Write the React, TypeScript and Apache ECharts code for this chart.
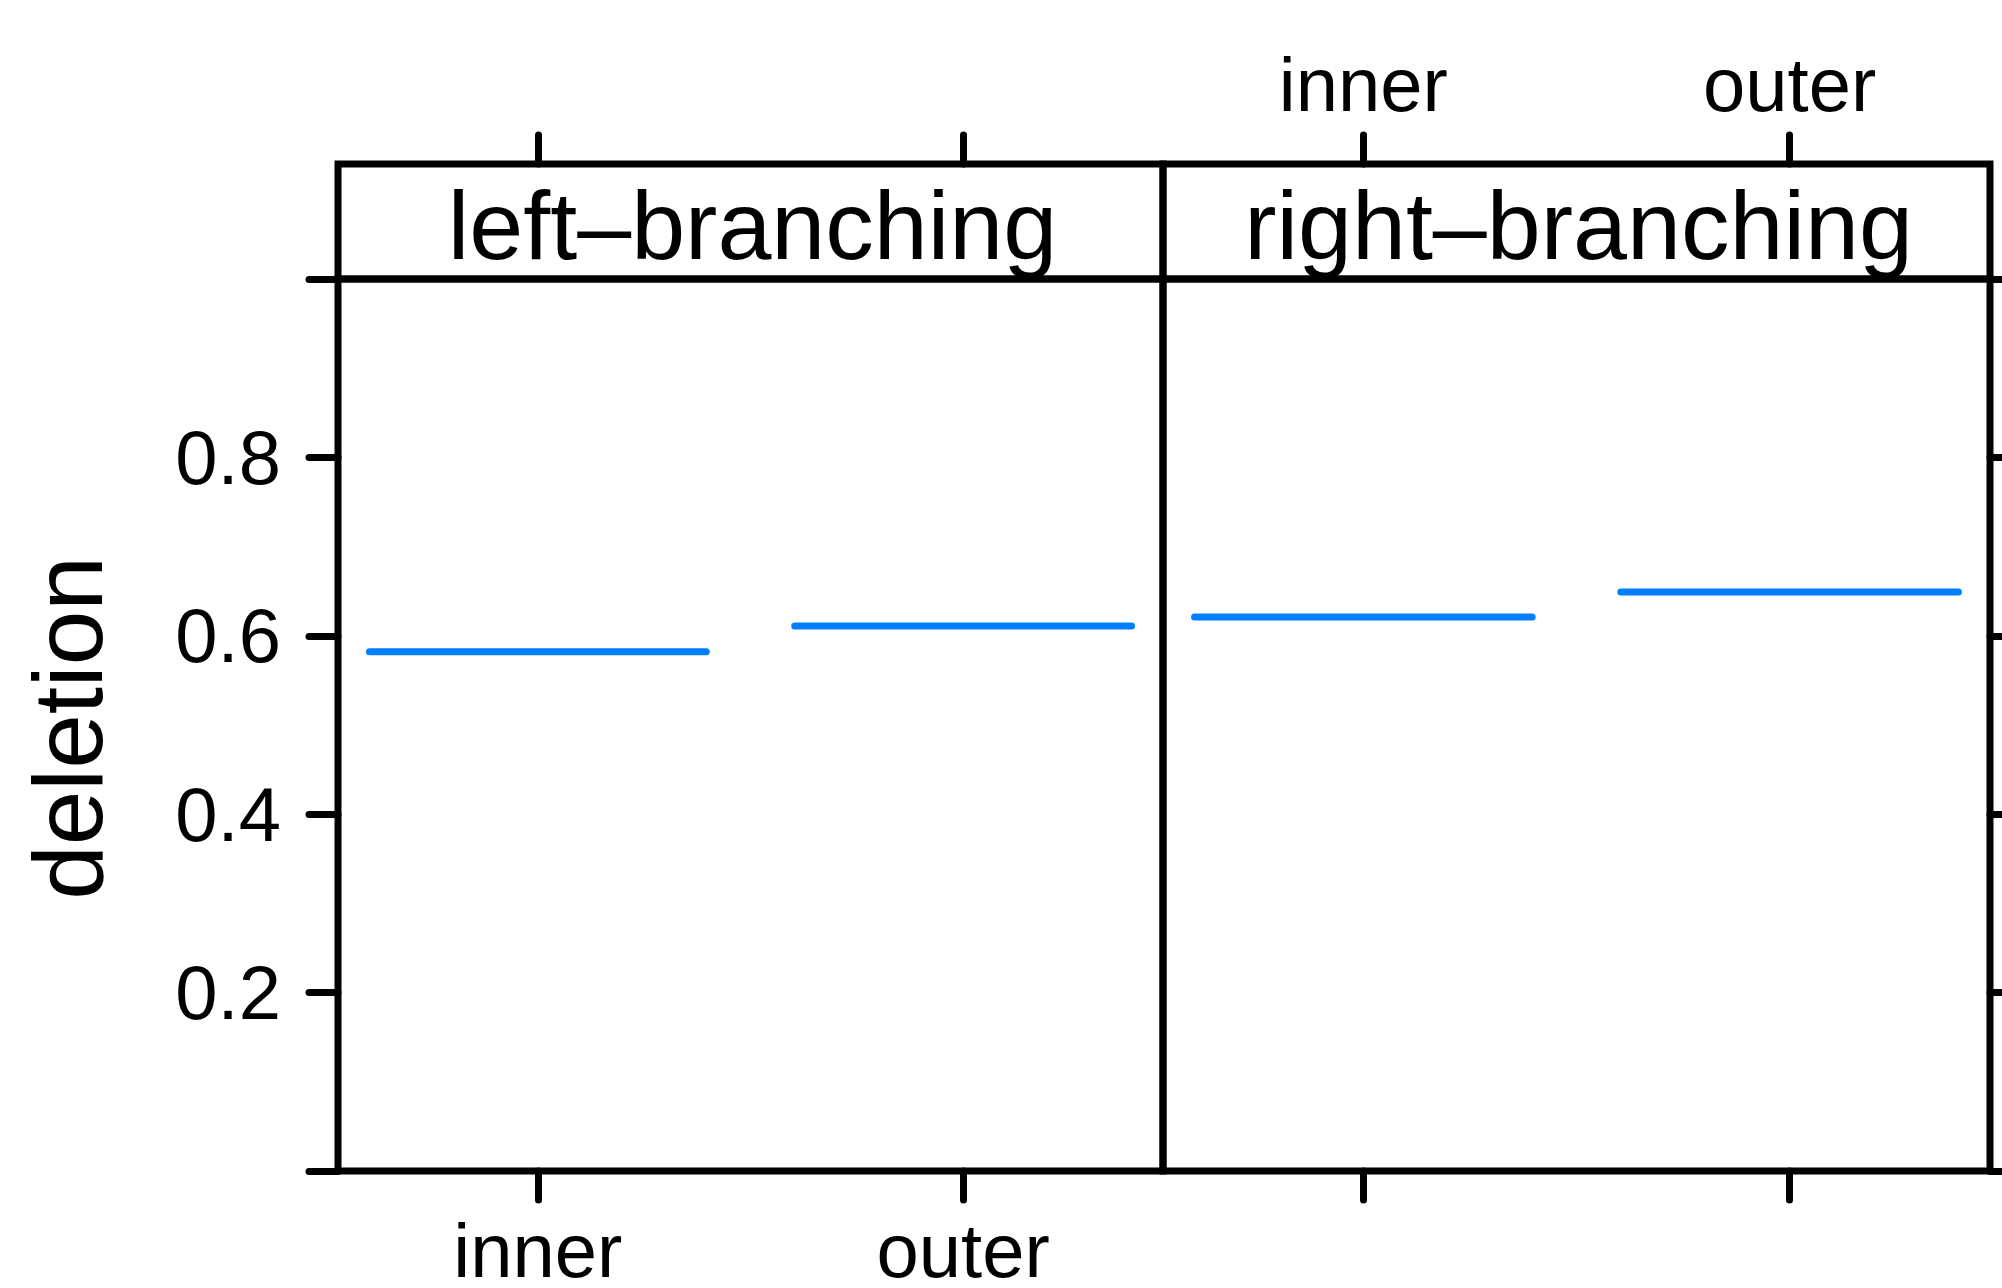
import React, { useEffect, useRef } from "react";
import * as echarts from "echarts";

const categories = ["inner", "outer"];
const categoryPositions = [1, 2];
const panelNames = ["left\u2013branching", "right\u2013branching"];
const leftBranching = [0.582, 0.611];
const rightBranching = [0.621, 0.649];
const panelValues = [leftBranching, rightBranching];
const yLabelValues = [0.2, 0.4, 0.6, 0.8];
const yAxisTitle = "deletion";

const FONT = "'Liberation Sans', Arial, Helvetica, sans-serif";
const LW = 7;
const X_MIN = 0.53;
const X_MAX = 2.47;
const HALF = 0.396;

function buildOption() {
  const panelTop = 279;
  const panelHeight = 892;
  const stripTop = 164;
  const stripHeight = panelTop - stripTop;
  const lefts = [338, 1163];
  const widths = [825, 827];

  const gridBase = {
    show: true,
    borderColor: "#000",
    borderWidth: LW,
    backgroundColor: "transparent",
    containLabel: false,
    outerBoundsMode: "none",
  };

  const grid: any[] = [];
  lefts.forEach((l, i) => {
    grid.push({ ...gridBase, left: l, top: panelTop, width: widths[i], height: panelHeight });
  });
  lefts.forEach((l, i) => {
    grid.push({ ...gridBase, left: l, top: stripTop, width: widths[i], height: stripHeight });
  });

  const tickStyle = { color: "#000", width: LW, cap: "round" };
  const labelStyle = { color: "#000", fontSize: 76, fontFamily: FONT };

  const xAxis: any[] = [];
  [0, 1].forEach((i) => {
    xAxis.push({
      gridIndex: i,
      type: "value",
      min: X_MIN,
      max: X_MAX,
      position: "bottom",
      axisLine: { show: false, onZero: false },
      splitLine: { show: false },
      axisTick: { show: true, length: 29, customValues: categoryPositions, lineStyle: tickStyle },
      axisLabel: {
        show: i === 0,
        customValues: categoryPositions,
        formatter: (v: number) => categories[Math.round(v) - 1] ?? "",
        margin: 51,
        lineHeight: 56,
        ...labelStyle,
      },
    });
  });
  [0, 1].forEach((i) => {
    xAxis.push({
      gridIndex: 2 + i,
      type: "value",
      min: X_MIN,
      max: X_MAX,
      position: "top",
      axisLine: { show: false, onZero: false },
      splitLine: { show: false },
      axisTick: { show: true, length: 29, customValues: categoryPositions, lineStyle: tickStyle },
      axisLabel: {
        show: i === 1,
        customValues: categoryPositions,
        formatter: (v: number) => categories[Math.round(v) - 1] ?? "",
        margin: 42,
        ...labelStyle,
      },
    });
  });

  const yAxis: any[] = [
    {
      gridIndex: 0,
      type: "value",
      min: 0,
      max: 1,
      interval: 0.2,
      position: "left",
      axisLine: { show: false, onZero: false },
      splitLine: { show: false },
      axisTick: { show: true, length: 29, lineStyle: tickStyle },
      axisLabel: {
        show: true,
        customValues: yLabelValues,
        formatter: (v: number) => v.toFixed(1),
        margin: 57,
        ...labelStyle,
      },
    },
    {
      gridIndex: 1,
      type: "value",
      min: 0,
      max: 1,
      interval: 0.2,
      position: "right",
      axisLine: { show: false, onZero: false },
      splitLine: { show: false },
      axisTick: { show: true, length: 29, lineStyle: tickStyle },
      axisLabel: { show: false },
    },
    { gridIndex: 2, type: "value", min: 0, max: 1, show: false },
    { gridIndex: 3, type: "value", min: 0, max: 1, show: false },
  ];

  const series: any[] = [];
  panelValues.forEach((vals, p) => {
    vals.forEach((v, c) => {
      const pos = categoryPositions[c];
      series.push({
        type: "line",
        name: `${panelNames[p]} ${categories[c]}`,
        xAxisIndex: p,
        yAxisIndex: p,
        data: [
          [pos - HALF, v],
          [pos + HALF, v],
        ],
        symbol: "none",
        showSymbol: false,
        silent: true,
        z: 5,
        lineStyle: { color: "#0080ff", width: LW, cap: "round" },
      });
    });
  });

  const graphic: any[] = panelNames.map((name, i) => ({
    type: "text",
    x: lefts[i] + widths[i] / 2 + 2,
    y: stripTop + stripHeight / 2 + 4,
    style: {
      text: name,
      fontSize: 97,
      fontFamily: FONT,
      fill: "#000",
      align: "center",
      verticalAlign: "middle",
    },
  }));
  graphic.push({
    type: "text",
    x: 68,
    y: panelTop + panelHeight / 2 + 3,
    rotation: Math.PI / 2,
    style: {
      text: yAxisTitle,
      fontSize: 98,
      fontFamily: FONT,
      fill: "#000",
      align: "center",
      verticalAlign: "middle",
    },
  });

  return {
    animation: false,
    backgroundColor: "#fff",
    grid,
    xAxis,
    yAxis,
    series,
    graphic,
  };
}

export default function App() {
  const ref = useRef<HTMLDivElement>(null);
  useEffect(() => {
    if (!ref.current) return;
    const chart = echarts.init(ref.current, null, { renderer: "svg" });
    chart.setOption(buildOption() as any);
    return () => chart.dispose();
  }, []);
  return (
    <div
      ref={ref}
      style={{ position: "fixed", left: 0, top: 0, width: 2002, height: 1288, background: "#fff" }}
    />
  );
}
